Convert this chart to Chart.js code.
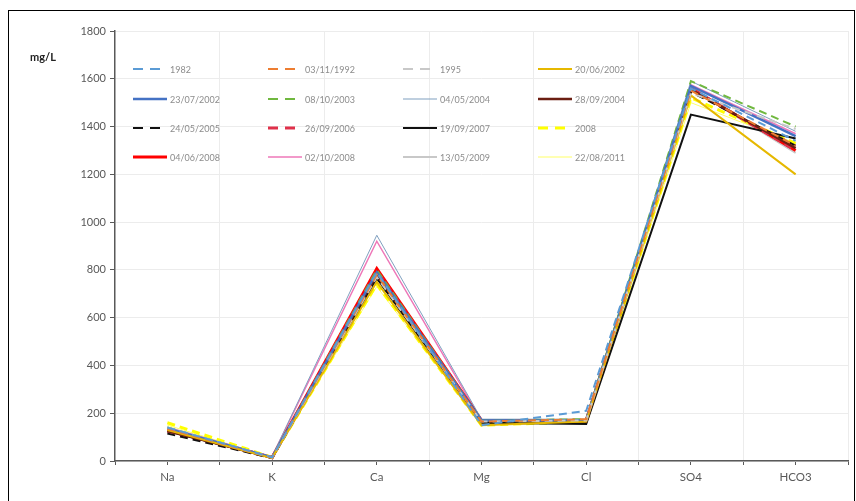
<!DOCTYPE html>
<html>
<head>
<meta charset="utf-8">
<script src="https://cdn.jsdelivr.net/npm/chart.js@4/dist/chart.umd.min.js"></script>
<style>
  html, body { margin: 0; padding: 0; background: #fff; }
  #wrap { position: relative; width: 856px; height: 501px; }
</style>
</head>
<body>
<div id="wrap"><canvas id="chart" width="856" height="501"></canvas></div>
<script>
const categories = ["Na", "K", "Ca", "Mg", "Cl", "SO4", "HCO3"];
const yTicks = [0, 200, 400, 600, 800, 1000, 1200, 1400, 1600, 1800];

const s1982     = [140, 15, 790, 150, 210, 1560, 1340];
const s1992     = [135, 15, 780, 165, 175, 1550, 1320];
const s1995     = [140, 15, 770, 165, 170, 1540, 1390];
const s20062002 = [130, 12, 750, 150, 165, 1530, 1200];
const s23072002 = [135, 15, 790, 170, 170, 1570, 1360];
const s08102003 = [140, 15, 800, 170, 175, 1590, 1400];
const s04052004 = [140, 18, 945, 175, 175, 1590, 1380];
const s28092004 = [125, 14, 780, 170, 165, 1555, 1310];
const s24052005 = [115, 12, 765, 165, 170, 1545, 1320];
const s26092006 = [125, 14, 795, 170, 170, 1560, 1300];
const s19092007 = [125, 14, 765, 160, 155, 1450, 1350];
const s2008     = [160, 15, 740, 150, 165, 1520, 1330];
const s04062008 = [130, 15, 805, 170, 170, 1560, 1300];
const s02102008 = [140, 18, 920, 170, 170, 1575, 1370];
const s13052009 = [140, 15, 800, 165, 170, 1560, 1290];
const s22082011 = [150, 15, 730, 155, 160, 1500, 1330];

function pts(vals) {
  return vals.map((v, i) => ({ x: i + 0.5, y: v }));
}

function series(label, vals, color, width, dash) {
  return {
    label: label,
    data: pts(vals),
    borderColor: color,
    backgroundColor: color,
    borderWidth: width,
    borderDash: dash || [],
    pointRadius: 0,
    tension: 0,
    fill: false,
  };
}

const DASH = [8, 5];

const datasets = [
  series("1982", s1982, "#5b9bd5", 2, DASH),
  series("03/11/1992", s1992, "#ed7d31", 2, DASH),
  series("1995", s1995, "#c8c8c8", 2, DASH),
  series("20/06/2002", s20062002, "#e6b800", 2, null),
  series("23/07/2002", s23072002, "#4472c4", 2.5, null),
  series("08/10/2003", s08102003, "#70b83f", 2, DASH),
  series("04/05/2004", s04052004, "#7f9fbf", 1, null),
  series("28/09/2004", s28092004, "#6b1e12", 2.5, null),
  series("24/05/2005", s24052005, "#111111", 2, DASH),
  series("26/09/2006", s26092006, "#e0304a", 3, DASH),
  series("19/09/2007", s19092007, "#111111", 2, null),
  series("2008", s2008, "#ffff00", 3, DASH),
  series("04/06/2008", s04062008, "#ff0000", 3, null),
  series("02/10/2008", s02102008, "#ee77b8", 1.5, null),
  series("13/05/2009", s13052009, "#c8c8c8", 2, null),
  series("22/08/2011", s22082011, "#ffff66", 1, null),
];

// frame, unit label and grid legend drawn on canvas
const extras = {
  id: "extras",
  afterDraw(chart) {
    const ctx = chart.ctx;
    ctx.save();
    ctx.strokeStyle = "#000";
    ctx.lineWidth = 1;
    ctx.strokeRect(8.5, 10.5, 846, 495);

    ctx.fillStyle = "#222";
    ctx.font = "bold 11px Lato";
    ctx.textBaseline = "middle";
    ctx.fillText("mg/L", 30, 57);

    const colX = [133, 268, 403, 538];
    const rowY = [69, 99, 128, 157];
    ctx.font = "9px Lato";
    chart.data.datasets.forEach((ds, i) => {
      const x = colX[i % 4];
      const y = rowY[Math.floor(i / 4)];
      ctx.strokeStyle = ds.borderColor;
      ctx.lineWidth = ds.borderWidth;
      ctx.setLineDash(ds.borderDash.length ? [10, 7] : []);
      ctx.beginPath();
      ctx.moveTo(x, y);
      ctx.lineTo(x + 34, y);
      ctx.stroke();
      ctx.setLineDash([]);
      ctx.fillStyle = "#8c8c8c";
      ctx.fillText(ds.label, x + 37, y + 1);
    });
    ctx.restore();
  },
};

new Chart(document.getElementById("chart"), {
  type: "line",
  data: { datasets: datasets },
  options: {
    responsive: false,
    animation: false,
    layout: { padding: { top: 31, right: 8, left: 0, bottom: 0 } },
    plugins: {
      legend: { display: false },
      tooltip: { enabled: false },
    },
    scales: {
      x: {
        type: "linear",
        min: 0,
        max: categories.length,
        afterFit(scale) { scale.height = 40; },
        afterBuildTicks(scale) {
          const t = [];
          for (let v = 0; v <= categories.length; v += 0.5) t.push({ value: v });
          scale.ticks = t;
        },
        ticks: {
          autoSkip: false,
          maxRotation: 0,
          padding: 5,
          color: "#595959",
          font: { family: "Lato", size: 11.5 },
          callback: (v) => (Number.isInteger(v) ? "" : categories[v - 0.5]),
        },
        grid: {
          color: (c) => (c.tick && Number.isInteger(c.tick.value) && c.tick.value > 0 ? "#ececec" : "rgba(0,0,0,0)"),
          tickColor: "#595959",
          tickLength: 4,
        },
        border: { color: "#595959", width: 1.5 },
      },
      y: {
        min: yTicks[0],
        max: yTicks[yTicks.length - 1],
        afterFit(scale) { scale.width = 115; },
        afterBuildTicks(scale) {
          scale.ticks = yTicks.map((v) => ({ value: v }));
        },
        ticks: {
          padding: 4,
          color: "#595959",
          font: { family: "Lato", size: 11 },
          callback: (v) => String(v),
        },
        grid: {
          color: "#ececec",
          tickColor: "#595959",
          tickLength: 5,
        },
        border: { color: "#595959", width: 1.5 },
      },
    },
  },
  plugins: [extras],
});
</script>
</body>
</html>
